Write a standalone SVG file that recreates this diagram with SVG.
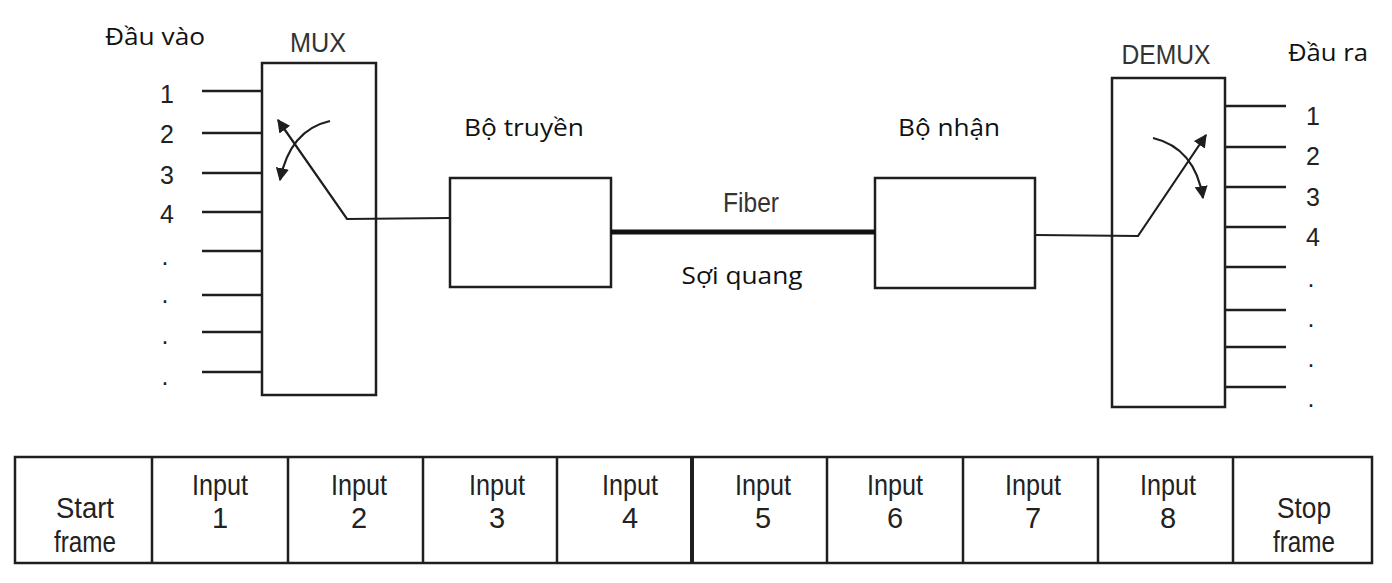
<svg xmlns="http://www.w3.org/2000/svg" width="1392" height="583" viewBox="0 0 1392 583">
<style>
.box{fill:#fff;stroke:#1e1e1e;stroke-width:2.5}
.ln{fill:none;stroke:#1e1e1e;stroke-width:2.5}
.thin{fill:none;stroke:#1e1e1e;stroke-width:2.2}
.lbl{font-family:"Open Sans","Noto Sans",sans-serif;font-size:23px;fill:#111}
.cond{font-family:"Liberation Sans",Arial,sans-serif;fill:#333}
.num{font-family:"Liberation Sans",Arial,sans-serif;font-size:25px;fill:#222;text-anchor:middle}
.cell{font-family:"Liberation Sans",Arial,sans-serif;font-size:29px;fill:#222;text-anchor:middle}
</style>
<defs>
<marker id="ah" viewBox="0 0 10 10" refX="9" refY="5" markerWidth="6" markerHeight="6" orient="auto" markerUnits="strokeWidth">
<path d="M0,0 L10,5 L0,10 z" fill="#1e1e1e"/>
</marker>
</defs>
<rect width="1392" height="583" fill="#fff"/>

<g id="mux">
<rect class="box" x="262" y="63" width="114" height="332"/>
<text class="cond" x="318" y="52" font-size="27" text-anchor="middle" textLength="56" lengthAdjust="spacingAndGlyphs">MUX</text>
<path class="ln" d="M202,91H262M202,133H262M202,173H262M202,212H262M202,251H262M202,295H262M202,332H262M202,372H262"/>
</g>
<g id="inputs-label">
<text class="lbl" x="155" y="45" text-anchor="middle" textLength="100" lengthAdjust="spacingAndGlyphs">Đầu vào</text>
<text class="num" x="167" y="103">1</text>
<text class="num" x="167" y="143">2</text>
<text class="num" x="167" y="184">3</text>
<text class="num" x="167" y="223">4</text>
<text class="num" x="165" y="265">.</text>
<text class="num" x="165" y="303">.</text>
<text class="num" x="165" y="344">.</text>
<text class="num" x="165" y="385">.</text>
</g>

<g id="transmitter">
<rect class="box" x="450" y="178" width="161" height="109"/>
<text class="lbl" x="524" y="136" text-anchor="middle" textLength="120" lengthAdjust="spacingAndGlyphs">Bộ truyền</text>
</g>
<g id="receiver">
<rect class="box" x="875" y="178" width="160" height="110"/>
<text class="lbl" x="949" y="136" text-anchor="middle" textLength="102" lengthAdjust="spacingAndGlyphs">Bộ nhận</text>
</g>
<g id="fiber-labels">
<text class="cond" x="751" y="212" font-size="27" text-anchor="middle" textLength="56" lengthAdjust="spacingAndGlyphs">Fiber</text>
<text class="lbl" x="742" y="284" text-anchor="middle" textLength="121" lengthAdjust="spacingAndGlyphs">Sợi quang</text>
</g>

<g id="demux">
<rect class="box" x="1112" y="78" width="113" height="329"/>
<text class="cond" x="1166" y="64" font-size="27" text-anchor="middle" textLength="89" lengthAdjust="spacingAndGlyphs">DEMUX</text>
<path class="ln" d="M1225,106H1286M1225,147H1286M1225,187H1286M1225,227H1286M1225,267H1286M1225,310H1286M1225,347H1286M1225,387H1286"/>
</g>
<g id="outputs-label">
<text class="lbl" x="1328" y="61" text-anchor="middle" textLength="80" lengthAdjust="spacingAndGlyphs">Đầu ra</text>
<text class="num" x="1313" y="125">1</text>
<text class="num" x="1313" y="165">2</text>
<text class="num" x="1313" y="206">3</text>
<text class="num" x="1313" y="246">4</text>
<text class="num" x="1311" y="287">.</text>
<text class="num" x="1311" y="327">.</text>
<text class="num" x="1311" y="367">.</text>
<text class="num" x="1311" y="407">.</text>
</g>

<g id="connectors">
<path class="thin" d="M450,218 L347,219 L278,120" marker-end="url(#ah)"/>
<path class="thin" d="M330,121 Q290,130 280,180" marker-end="url(#ah)"/>
<line x1="611" y1="232" x2="875" y2="232" stroke="#111" stroke-width="5"/>
<path class="thin" d="M1035,235 L1138,236 L1206,135" marker-end="url(#ah)"/>
<path class="thin" d="M1153,138 Q1195,148 1203,198" marker-end="url(#ah)"/>
</g>

<g id="frame">
<rect class="box" x="15" y="457" width="1357" height="106"/>
<path class="ln" d="M152,457V563M288,457V563M423,457V563M557,457V563M827,457V563M963,457V563M1098,457V563M1233,457V563"/>
<line x1="692" y1="457" x2="692" y2="563" stroke="#1e1e1e" stroke-width="4"/>
<text class="cell" x="85" y="518" textLength="58" lengthAdjust="spacingAndGlyphs">Start</text>
<text class="cell" x="85" y="552" textLength="62" lengthAdjust="spacingAndGlyphs">frame</text>
<text class="cell" x="220" y="495" textLength="56" lengthAdjust="spacingAndGlyphs">Input</text>
<text class="cell" x="220" y="528">1</text>
<text class="cell" x="359" y="495" textLength="56" lengthAdjust="spacingAndGlyphs">Input</text>
<text class="cell" x="359" y="528">2</text>
<text class="cell" x="497" y="495" textLength="56" lengthAdjust="spacingAndGlyphs">Input</text>
<text class="cell" x="497" y="528">3</text>
<text class="cell" x="630" y="495" textLength="56" lengthAdjust="spacingAndGlyphs">Input</text>
<text class="cell" x="630" y="528">4</text>
<text class="cell" x="763" y="495" textLength="56" lengthAdjust="spacingAndGlyphs">Input</text>
<text class="cell" x="763" y="528">5</text>
<text class="cell" x="895" y="495" textLength="56" lengthAdjust="spacingAndGlyphs">Input</text>
<text class="cell" x="895" y="528">6</text>
<text class="cell" x="1033" y="495" textLength="56" lengthAdjust="spacingAndGlyphs">Input</text>
<text class="cell" x="1033" y="528">7</text>
<text class="cell" x="1168" y="495" textLength="56" lengthAdjust="spacingAndGlyphs">Input</text>
<text class="cell" x="1168" y="528">8</text>
<text class="cell" x="1304" y="518" textLength="54" lengthAdjust="spacingAndGlyphs">Stop</text>
<text class="cell" x="1304" y="552" textLength="62" lengthAdjust="spacingAndGlyphs">frame</text>
</g>
</svg>
